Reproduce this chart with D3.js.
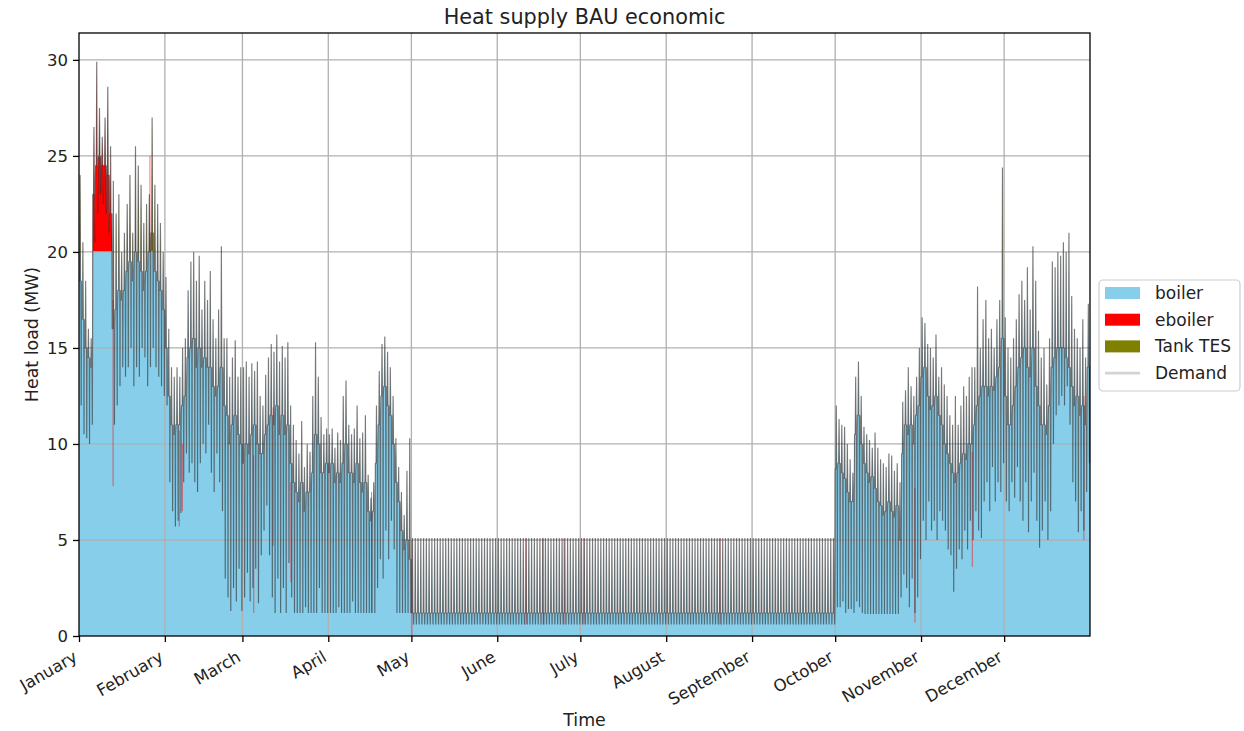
<!DOCTYPE html>
<html>
<head>
<meta charset="utf-8">
<script src="https://cdn.jsdelivr.net/npm/d3@7/dist/d3.min.js"></script>
<style>
  html, body { margin: 0; padding: 0; background: #ffffff; }
  svg { display: block; font-family: "DejaVu Sans", sans-serif; }
</style>
</head>
<body>
<svg id="chart" width="1244" height="731"></svg>
<script>
// Daily heat demand (MW): peak hour, typical level and lowest hour for every day of the year.
const monthNames = ["January", "February", "March", "April", "May", "June", "July",
  "August", "September", "October", "November", "December"];
const monthStartDay = [0, 31, 59, 90, 120, 151, 181, 212, 243, 273, 304, 334];

const demandHigh = [
  // January
  24, 20.5, 18.5, 16, 15.5, 26.5, 29.9, 27.5, 26, 27, 28.6, 25.5, 23.7, 22, 23, 20, 21, 22.5, 24, 21,
  25.5, 24.5, 23.5, 21.5, 22.5, 23, 27, 23.5, 22.5, 21.5, 20,
  // February
  18.7, 16, 14, 13.5, 14, 13.5, 15, 15.5, 18, 19.5, 20, 18.5, 19.8, 17, 18.5, 17.5, 19, 16.5, 15.5, 17,
  20.3, 15.5, 15.5, 13.5, 14.5, 15.4, 13.5, 14,
  // March
  14, 14.3, 13.5, 14.2, 13.8, 14.3, 12.5, 12, 13.6, 14.5, 15.2, 14.8, 15.7, 14.3, 15.1, 14.5, 15.3, 12, 11, 10.2,
  9.5, 11.2, 8.8, 10, 9.6, 12.5, 15.3, 13.5, 11.4, 10.5, 10.8,
  // April
  10.5, 10.8, 9.8, 10.6, 10.2, 12.5, 13.3, 11, 10.5, 10.8, 12, 10.3, 10.6, 11.5, 8.4, 7.2, 8, 12, 13.8, 15.2,
  15.6, 14.8, 14, 12.5, 10.3, 8.8, 7.5, 6.3, 8.6, 10.3,
  // May - September
  5.1, 5.1, 5.1, 5.1, 5.1, 5.1, 5.1, 5.1, 5.1, 5.1, 5.1, 5.1, 5.1, 5.1, 5.1, 5.1, 5.1,
  5.1, 5.1, 5.1, 5.1, 5.1, 5.1, 5.1, 5.1, 5.1, 5.1, 5.1, 5.1, 5.1, 5.1, 5.1, 5.1, 5.1,
  5.1, 5.1, 5.1, 5.1, 5.1, 5.1, 5.1, 5.1, 5.1, 5.1, 5.1, 5.1, 5.1, 5.1, 5.1, 5.1, 5.1,
  5.1, 5.1, 5.1, 5.1, 5.1, 5.1, 5.1, 5.1, 5.1, 5.1, 5.1, 5.1, 5.1, 5.1, 5.1, 5.1, 5.1,
  5.1, 5.1, 5.1, 5.1, 5.1, 5.1, 5.1, 5.1, 5.1, 5.1, 5.1, 5.1, 5.1, 5.1, 5.1, 5.1, 5.1,
  5.1, 5.1, 5.1, 5.1, 5.1, 5.1, 5.1, 5.1, 5.1, 5.1, 5.1, 5.1, 5.1, 5.1, 5.1, 5.1, 5.1,
  5.1, 5.1, 5.1, 5.1, 5.1, 5.1, 5.1, 5.1, 5.1, 5.1, 5.1, 5.1, 5.1, 5.1, 5.1, 5.1, 5.1,
  5.1, 5.1, 5.1, 5.1, 5.1, 5.1, 5.1, 5.1, 5.1, 5.1, 5.1, 5.1, 5.1, 5.1, 5.1, 5.1, 5.1,
  5.1, 5.1, 5.1, 5.1, 5.1, 5.1, 5.1, 5.1, 5.1, 5.1, 5.1, 5.1, 5.1, 5.1, 5.1, 5.1, 5.1,
  // October
  12, 11.3, 11, 10.9, 10, 9.2, 8.5, 13.5, 14.3, 12.5, 10.9, 10.5, 10.2, 9.8, 10.6, 9.8, 9.2, 9, 8.8, 9.5,
  9.4, 8.6, 9, 8, 12.2, 12.8, 14, 13, 12.5, 13.5, 15,
  // November
  16.6, 16.3, 15.2, 15, 14.5, 15.7, 13.5, 14, 13.1, 12.5, 11.5, 11, 12.5, 11, 12, 13, 12.5, 13.5, 14, 14,
  18.2, 15, 16.5, 17.5, 15.5, 16, 15, 16.5, 17.5, 24.4,
  // December
  16.6, 15, 14.5, 15.5, 16.5, 17.8, 18.5, 17.5, 19.2, 17, 20.3, 18.5, 15.9, 14.5, 15, 13.1, 15.5, 19.5, 19.2, 20,
  19.8, 20.5, 20, 21, 17.7, 16, 15.5, 15, 16.5, 14.5, 17.3
];

const demandTypical = [
  // January
  18.5, 16.5, 15, 14.5, 14, 23, 24.5, 25, 24.5, 24.5, 24, 22, 16, 17, 18, 17.5, 18, 19, 19.5, 18.5,
  20, 19.5, 19, 18, 19, 20, 21, 19, 18.5, 18, 17,
  // February
  15, 12.5, 11, 10.5, 11, 11, 12, 12.5, 14.5, 15, 15.5, 14, 15, 14, 14.5, 14, 14, 13, 12.5, 13,
  14, 12, 11.5, 10, 11, 11.5, 10.5, 10,
  // March
  9, 10, 9.5, 10.5, 11, 10, 9.5, 9.5, 10.5, 11, 11.5, 11, 12, 10.5, 11.5, 10.5, 11, 9, 8, 7.5,
  7, 8, 6.5, 7.5, 7.5, 8.5, 10.5, 10, 8.5, 8.5, 9,
  // April
  8.5, 9, 8, 8.5, 8, 9, 10, 8.5, 8.5, 8, 9, 8, 7.5, 8, 6.5, 6, 6.5, 9, 11, 12.5,
  13, 12, 11.5, 10, 8, 7, 5.5, 4.5, 5, 4,
  // May - September
  1.2, 1.2, 1.2, 1.2, 1.2, 1.2, 1.2, 1.2, 1.2, 1.2, 1.2, 1.2, 1.2, 1.2, 1.2, 1.2, 1.2,
  1.2, 1.2, 1.2, 1.2, 1.2, 1.2, 1.2, 1.2, 1.2, 1.2, 1.2, 1.2, 1.2, 1.2, 1.2, 1.2, 1.2,
  1.2, 1.2, 1.2, 1.2, 1.2, 1.2, 1.2, 1.2, 1.2, 1.2, 1.2, 1.2, 1.2, 1.2, 1.2, 1.2, 1.2,
  1.2, 1.2, 1.2, 1.2, 1.2, 1.2, 1.2, 1.2, 1.2, 1.2, 1.2, 1.2, 1.2, 1.2, 1.2, 1.2, 1.2,
  1.2, 1.2, 1.2, 1.2, 1.2, 1.2, 1.2, 1.2, 1.2, 1.2, 1.2, 1.2, 1.2, 1.2, 1.2, 1.2, 1.2,
  1.2, 1.2, 1.2, 1.2, 1.2, 1.2, 1.2, 1.2, 1.2, 1.2, 1.2, 1.2, 1.2, 1.2, 1.2, 1.2, 1.2,
  1.2, 1.2, 1.2, 1.2, 1.2, 1.2, 1.2, 1.2, 1.2, 1.2, 1.2, 1.2, 1.2, 1.2, 1.2, 1.2, 1.2,
  1.2, 1.2, 1.2, 1.2, 1.2, 1.2, 1.2, 1.2, 1.2, 1.2, 1.2, 1.2, 1.2, 1.2, 1.2, 1.2, 1.2,
  1.2, 1.2, 1.2, 1.2, 1.2, 1.2, 1.2, 1.2, 1.2, 1.2, 1.2, 1.2, 1.2, 1.2, 1.2, 1.2, 1.2,
  // October
  8.7, 9, 8.5, 8.2, 7.5, 7, 7, 10.5, 11.5, 10, 9, 8.5, 8, 8.3, 7.7, 7, 6.8, 6.3, 6.5, 7,
  6.5, 6.2, 6.8, 5, 9.5, 11, 10.5, 11, 10, 11.5, 12,
  // November
  13.5, 14, 12.5, 11.8, 12, 12.5, 11.5, 11, 10, 9.5, 9, 8.5, 8, 8.5, 9, 9.5, 9.2, 10, 10, 11,
  12, 12.5, 13, 13, 12.5, 13, 12.8, 13.5, 14, 15.5,
  // December
  12.5, 11, 11, 12, 13, 14, 14.5, 15, 14, 13.5, 15, 13, 12, 11, 11, 10.5, 12, 14, 14.5, 15,
  15, 15, 14.5, 14, 13, 12, 12.5, 11.5, 12, 11, 14
];

const demandLow = [
  // January
  12, 10.5, 10.3, 10, 11, 20.5, 22, 23, 22.5, 22, 21, 20.5, 11, 12, 13, 14, 13.5, 14, 15, 13,
  14, 13.5, 15, 14.5, 13, 14, 15, 14, 13.5, 13, 12.5,
  // February
  12, 8, 6.5, 5.7, 6, 6.4, 8, 9.5, 8.5, 9, 8, 7.5, 9, 10, 9.5, 11, 8.5, 7.5, 9.5, 8,
  6.5, 3, 2, 1.3, 2.5, 1.8, 3.5, 1.3,
  // March
  2, 3.3, 1.8, 2.5, 3.5, 1.7, 4.2, 5.5, 6.8, 4.2, 2, 1.2, 3, 1.2, 2.5, 1.2, 3.8, 2, 1.2, 1.2,
  1.2, 1.2, 1.5, 1.2, 1.2, 1.2, 1.2, 2.5, 1.2, 1.2, 1.2,
  // April
  1.2, 1.2, 1.2, 1.5, 1.2, 1.2, 1.2, 1.2, 1.8, 1.2, 1.2, 1.2, 1.2, 1.2, 1.2, 1.2, 1.2, 2.5, 4, 3,
  5.5, 4, 6, 4.5, 1.2, 1.2, 1.2, 1.2, 1.2, 1.2,
  // May - September
  0.6, 0.6, 0.6, 0.6, 0.6, 0.6, 0.6, 0.6, 0.6, 0.6, 0.6, 0.6, 0.6, 0.6, 0.6, 0.6, 0.6,
  0.6, 0.6, 0.6, 0.6, 0.6, 0.6, 0.6, 0.6, 0.6, 0.6, 0.6, 0.6, 0.6, 0.6, 0.6, 0.6, 0.6,
  0.6, 0.6, 0.6, 0.6, 0.6, 0.6, 0.6, 0.6, 0.6, 0.6, 0.6, 0.6, 0.6, 0.6, 0.6, 0.6, 0.6,
  0.6, 0.6, 0.6, 0.6, 0.6, 0.6, 0.6, 0.6, 0.6, 0.6, 0.6, 0.6, 0.6, 0.6, 0.6, 0.6, 0.6,
  0.6, 0.6, 0.6, 0.6, 0.6, 0.6, 0.6, 0.6, 0.6, 0.6, 0.6, 0.6, 0.6, 0.6, 0.6, 0.6, 0.6,
  0.6, 0.6, 0.6, 0.6, 0.6, 0.6, 0.6, 0.6, 0.6, 0.6, 0.6, 0.6, 0.6, 0.6, 0.6, 0.6, 0.6,
  0.6, 0.6, 0.6, 0.6, 0.6, 0.6, 0.6, 0.6, 0.6, 0.6, 0.6, 0.6, 0.6, 0.6, 0.6, 0.6, 0.6,
  0.6, 0.6, 0.6, 0.6, 0.6, 0.6, 0.6, 0.6, 0.6, 0.6, 0.6, 0.6, 0.6, 0.6, 0.6, 0.6, 0.6,
  0.6, 0.6, 0.6, 0.6, 0.6, 0.6, 0.6, 0.6, 0.6, 0.6, 0.6, 0.6, 0.6, 0.6, 0.6, 0.6, 0.6,
  // October
  1.5, 1.5, 1.8, 1.2, 1.4, 1.4, 1.2, 1.8, 1.5, 1.2, 1.15, 1.15, 1.15, 1.15, 1.15, 1.15, 1.15, 1.15, 1.15, 1.15,
  1.15, 1.15, 1.15, 2, 3.2, 2.5, 1.5, 3, 1.2, 2, 4,
  // November
  6, 5, 7, 5.5, 6, 5, 6.5, 6, 5.5, 4.5, 4.2, 2.3, 3.5, 4.5, 4, 5.5, 4.5, 6, 5, 6.5,
  5.5, 5.1, 7, 8, 6.5, 8.8, 7, 8, 7.5, 9,
  // December
  7, 6.5, 8, 7.2, 8.8, 7, 6, 8, 5.4, 7, 8.5, 6, 4.6, 5.5, 7, 5, 6.5, 10, 11.5, 12,
  12.5, 12, 13, 11, 8, 7, 5.4, 6.5, 5.5, 7.5, 9
];

// Boiler output limit (MW); demand above it is met by the eboiler inside its run window, otherwise by the tank.
const boilerCapacity = 20;
const eboilerRunDays = [5, 12];

// Short eboiler operating hours: day of year, lower and upper edge of the eboiler band (MW).
const eboilerHourDay = [12.3, 25.6, 36.2, 37.3, 63.1, 70.1, 76.5, 105.6, 120.2, 161.4, 167.6, 175.1, 182.3, 231.4, 301.8, 322.5, 362.8];
const eboilerHourLow = [7.8, 20, 5.7, 6.5, 1.2, 4.7, 2.8, 1.2, 0, 0.6, 0.6, 0.6, 0.6, 0.6, 0.7, 3.6, 5];
const eboilerHourHigh = [17.5, 25, 10.7, 10, 9.4, 11.9, 8, 7.5, 5, 5.1, 5.1, 5.1, 5.1, 5.1, 7.7, 9.6, 12.5];

const yTicks = [0, 5, 10, 15, 20, 25, 30];

const seriesKeys = ["boiler", "eboiler", "tes"];
const seriesLabels = { boiler: "boiler", eboiler: "eboiler", tes: "Tank TES" };
const seriesColors = { boiler: "#87ceeb", eboiler: "#ff0000", tes: "#808000" };

// Position of each reading within its day (fraction of the day) for the daily trace.
const dayProfile = [[0, "typical"], [0.25, "typical"], [0.4, "high"], [0.55, "typical"],
  [0.72, "typical"], [0.8, "low"], [0.88, "typical"]];

// ---- layout ----
const W = 1244, H = 731;
const plot = { left: 79, right: 1090, top: 33, bottom: 636 };

const svg = d3.select("#chart");
svg.append("rect").attr("width", W).attr("height", H).attr("fill", "#ffffff");

const x = d3.scaleLinear().domain([0, 365]).range([plot.left, plot.right]);
const y = d3.scaleLinear().domain([0, 31.4]).range([plot.bottom, plot.top]);

function supplySplit(t, v) {
  const boiler = Math.min(v, boilerCapacity);
  const above = v - boiler;
  const inRun = t >= eboilerRunDays[0] && t < eboilerRunDays[1];
  return { t, demand: v, boiler, eboiler: inRun ? above : 0, tes: inRun ? 0 : above };
}

const samples = [];
demandHigh.forEach((hi, d) => {
  const level = { high: hi, typical: demandTypical[d], low: demandLow[d] };
  dayProfile.forEach(([off, key]) => samples.push(supplySplit(d + off, level[key])));
});
samples.push(supplySplit(365, demandTypical[demandTypical.length - 1]));

const stacked = d3.stack().keys(seriesKeys)(samples);

svg.append("defs").append("clipPath").attr("id", "plotClip")
  .append("rect").attr("x", plot.left).attr("y", plot.top)
  .attr("width", plot.right - plot.left).attr("height", plot.bottom - plot.top);

const area = d3.area()
  .x(d => x(d.data.t))
  .y0(d => y(d[0]))
  .y1(d => y(d[1]));

const areaLayer = svg.append("g").attr("clip-path", "url(#plotClip)");
areaLayer.selectAll("path.layer")
  .data(stacked)
  .join("path")
  .attr("class", "layer")
  .attr("fill", s => seriesColors[s.key])
  .attr("d", area);

// ---- grid ----
const grid = svg.append("g").attr("stroke", "#b0b0b0").attr("stroke-width", 1.3);
grid.selectAll("line.gy").data(yTicks.filter(v => v > 0)).join("line")
  .attr("x1", plot.left).attr("x2", plot.right)
  .attr("y1", v => y(v)).attr("y2", v => y(v));
grid.selectAll("line.gx").data(monthStartDay.filter(v => v > 0)).join("line")
  .attr("y1", plot.top).attr("y2", plot.bottom)
  .attr("x1", v => x(v)).attr("x2", v => x(v));

// ---- eboiler operating hours ----
svg.append("g").attr("clip-path", "url(#plotClip)")
  .selectAll("line").data(eboilerHourDay).join("line")
  .attr("x1", d => x(d)).attr("x2", d => x(d))
  .attr("y1", (d, i) => y(eboilerHourLow[i]))
  .attr("y2", (d, i) => y(eboilerHourHigh[i]))
  .attr("stroke", "#ff0000").attr("stroke-opacity", 0.55).attr("stroke-width", 1);

// ---- demand line ----
svg.append("g").attr("clip-path", "url(#plotClip)")
  .append("path")
  .datum(samples)
  .attr("fill", "none")
  .attr("stroke", "#2a2a2a")
  .attr("stroke-opacity", 0.62)
  .attr("stroke-width", 1.15)
  .attr("stroke-linejoin", "bevel")
  .attr("d", d3.line().x(d => x(d.t)).y(d => y(d.demand)));

// ---- axes ----
const axisY = d3.axisLeft(y).tickValues(yTicks).tickSize(6).tickPadding(5).tickFormat(d3.format("d"));
const gy = svg.append("g").attr("transform", `translate(${plot.left},0)`).call(axisY);
gy.select(".domain").remove();
gy.selectAll(".tick line").attr("stroke", "#000").attr("stroke-width", 1.3);
gy.selectAll(".tick text").attr("font-size", 16.5).attr("fill", "#222").attr("font-family", "DejaVu Sans");

const axisX = d3.axisBottom(x).tickValues(monthStartDay).tickSize(6).tickFormat((d, i) => monthNames[i]);
const gx = svg.append("g").attr("transform", `translate(0,${plot.bottom})`).call(axisX);
gx.select(".domain").remove();
gx.selectAll(".tick line").attr("stroke", "#000").attr("stroke-width", 1.3);
gx.selectAll(".tick text")
  .attr("font-size", 16.5).attr("fill", "#222").attr("font-family", "DejaVu Sans")
  .attr("text-anchor", "end")
  .attr("y", 0).attr("dy", "0.85em")
  .attr("transform", "translate(-8,12) rotate(-30)");

// frame
svg.append("rect")
  .attr("x", plot.left).attr("y", plot.top)
  .attr("width", plot.right - plot.left).attr("height", plot.bottom - plot.top)
  .attr("fill", "none").attr("stroke", "#000").attr("stroke-width", 1.3);

// ---- titles ----
svg.append("text").attr("x", (plot.left + plot.right) / 2).attr("y", 24)
  .attr("text-anchor", "middle").attr("font-size", 20.8).attr("fill", "#222")
  .text("Heat supply BAU economic");
svg.append("text").attr("x", (plot.left + plot.right) / 2).attr("y", 726)
  .attr("text-anchor", "middle").attr("font-size", 17.4).attr("fill", "#222")
  .text("Time");
svg.append("text")
  .attr("transform", `translate(38,${(plot.top + plot.bottom) / 2}) rotate(-90)`)
  .attr("text-anchor", "middle").attr("font-size", 17.4).attr("fill", "#222")
  .text("Heat load (MW)");

// ---- legend ----
const legend = svg.append("g");
legend.append("rect").attr("x", 1099).attr("y", 280).attr("width", 141).attr("height", 111)
  .attr("rx", 4).attr("fill", "#ffffff").attr("fill-opacity", 0.8)
  .attr("stroke", "#cccccc").attr("stroke-width", 1.2);
const legendItems = seriesKeys.map(k => ({ key: k, label: seriesLabels[k] })).concat([{ key: "demand", label: "Demand" }]);
const rowY = i => 293 + i * 26.7;
legendItems.forEach((it, i) => {
  if (it.key === "demand") {
    legend.append("line").attr("x1", 1105).attr("x2", 1140).attr("y1", rowY(i)).attr("y2", rowY(i))
      .attr("stroke", "#d3d3d3").attr("stroke-width", 2.6);
  } else {
    legend.append("rect").attr("x", 1105).attr("y", rowY(i) - 6).attr("width", 35).attr("height", 12)
      .attr("fill", seriesColors[it.key]);
  }
  legend.append("text").attr("x", 1155).attr("y", rowY(i)).attr("dy", "0.35em")
    .attr("font-size", 17).attr("fill", "#222").text(it.label);
});
</script>
</body>
</html>
